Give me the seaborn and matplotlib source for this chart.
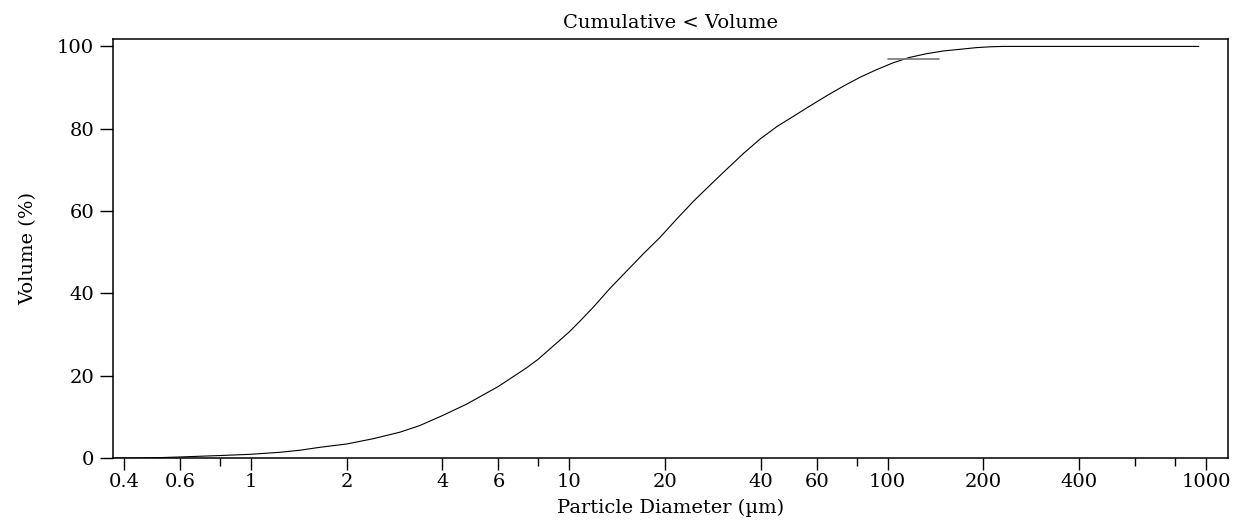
import matplotlib
matplotlib.use("Agg")
import matplotlib.pyplot as plt
import seaborn as sns
import pandas as pd
from matplotlib.ticker import FixedLocator, FixedFormatter, NullFormatter

# ---- data ----
diameter_um = [0.375, 0.45, 0.52, 0.6, 0.8, 1.0, 1.24, 1.43, 1.65, 2.0, 2.43, 2.95,
               3.4, 4.0, 4.77, 6.0, 7.35, 8.0, 10.0, 10.8, 11.9, 13.4, 15.2, 17.1,
               19.3, 21.8, 24.6, 27.8, 31.3, 35.3, 39.8, 44.9, 50.6, 57.0, 64.4,
               72.5, 82.0, 92.1, 104.0, 117.0, 132.0, 150.0, 169.0, 190.0, 210.0,
               230.0, 950.0]
cumulative_pct = [0.0, 0.02, 0.1, 0.25, 0.6, 0.9, 1.4, 1.9, 2.6, 3.4, 4.7, 6.3,
                  7.9, 10.3, 13.1, 17.4, 21.9, 24.0, 30.6, 33.2, 36.6, 41.1, 45.5, 49.6,
                  53.6, 58.1, 62.4, 66.4, 70.2, 74.0, 77.5, 80.5, 83.0, 85.5, 88.0,
                  90.3, 92.5, 94.3, 96.0, 97.3, 98.2, 98.9, 99.3, 99.7, 99.9,
                  100.0, 100.0]
marker_x = [100.0, 145.0]
marker_y = [97.0, 97.0]

major_ticks = [0.4, 0.6, 1, 2, 4, 6, 10, 20, 40, 60, 100, 200, 400, 1000]
major_labels = ["0.4", "0.6", "1", "2", "4", "6", "10", "20", "40", "60",
                "100", "200", "400", "1000"]
minor_ticks = [0.8, 8, 80, 600, 800]
y_ticks = [0, 20, 40, 60, 80, 100]

title = "Cumulative < Volume"
x_label = "Particle Diameter (\u00b5m)"
y_label = "Volume (%)"

# ---- style ----
sns.set_theme(style="ticks")
plt.rcParams["font.family"] = ["DejaVu Serif", "DejaVu Sans"]

fig = plt.figure(figsize=(12.41, 5.22), dpi=100)
ax = fig.add_axes([0.0908, 0.1226, 0.8987, 0.8027])

df = pd.DataFrame({"d": diameter_um, "v": cumulative_pct})
sns.lineplot(data=df, x="d", y="v", ax=ax, color="black", linewidth=0.8,
             estimator=None, sort=True)
ax.plot(marker_x, marker_y, color="#777777", linewidth=1.2)

ax.set_xscale("log")
ax.set_xlim(0.3686, 1173)
ax.set_ylim(0, 101.8)

ax.xaxis.set_major_locator(FixedLocator(major_ticks))
ax.xaxis.set_major_formatter(FixedFormatter(major_labels))
ax.xaxis.set_minor_locator(FixedLocator(minor_ticks))
ax.xaxis.set_minor_formatter(NullFormatter())
ax.set_yticks(y_ticks)
ax.set_yticklabels([str(v) for v in y_ticks])

fs = 14
ax.tick_params(axis="x", which="major", direction="out", length=8.6, width=1.0,
               labelsize=fs, pad=2, colors="black", bottom=True, top=False)
ax.tick_params(axis="x", which="minor", direction="out", length=5.8, width=1.0,
               bottom=True, top=False, colors="black")
ax.tick_params(axis="y", which="major", direction="out", length=9.4, width=1.0,
               labelsize=fs, pad=4, colors="black", left=True, right=False)

for side in ["top", "right", "bottom", "left"]:
    ax.spines[side].set_visible(True)
    ax.spines[side].set_linewidth(1.1)
    ax.spines[side].set_color("black")

ax.set_title(title, fontsize=fs, pad=8, color="black")
ax.set_xlabel(x_label, fontsize=fs, labelpad=6, color="black")
ax.set_ylabel(y_label, fontsize=fs, labelpad=14, color="black")
ax.grid(False)

fig.savefig("out.png", dpi=100, facecolor="white")
